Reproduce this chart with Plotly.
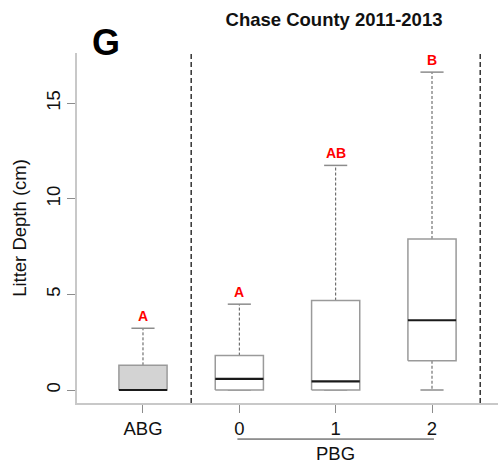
import plotly.graph_objects as go

# ---- data ----
categories = ["ABG", "0", "1", "2"]
lower_whisker = [0.0, 0.0, 0.0, 0.0]
q1 = [0.0, 0.0, 0.0, 1.53]
median = [0.0, 0.58, 0.45, 3.65]
q3 = [1.29, 1.80, 4.68, 7.90]
upper_whisker = [3.23, 4.49, 11.75, 16.63]
letters = ["A", "A", "AB", "B"]
box_fill = ["#D3D3D3", "white", "white", "white"]
y_ticks = [0, 5, 10, 15]

FONT = "Liberation Sans, Arial, sans-serif"
pos = list(range(1, len(categories) + 1))
half_box = 0.25
half_cap = 0.12

fig = go.Figure()
for i, x in enumerate(pos):
    # whiskers (dashed)
    fig.add_trace(go.Scatter(
        x=[x, x, None, x, x],
        y=[q3[i], upper_whisker[i], None, q1[i], lower_whisker[i]],
        mode="lines", line=dict(color="#555555", width=1, dash="3px,2px"),
        hoverinfo="skip", showlegend=False))
    # caps
    fig.add_trace(go.Scatter(
        x=[x - half_cap, x + half_cap, None, x - half_cap, x + half_cap],
        y=[upper_whisker[i], upper_whisker[i], None, lower_whisker[i], lower_whisker[i]],
        mode="lines", line=dict(color="#8c8c8c", width=1.5),
        hoverinfo="skip", showlegend=False))
    # box
    fig.add_trace(go.Scatter(
        x=[x - half_box, x + half_box, x + half_box, x - half_box, x - half_box],
        y=[q1[i], q1[i], q3[i], q3[i], q1[i]],
        mode="lines", fill="toself", fillcolor=box_fill[i],
        line=dict(color="#9a9a9a", width=1.5),
        hoverinfo="skip", showlegend=False))
    # median
    fig.add_trace(go.Scatter(
        x=[x - half_box, x + half_box], y=[median[i], median[i]],
        mode="lines", line=dict(color="#1a1a1a", width=2.2),
        hoverinfo="skip", showlegend=False))
    # significance letter
    fig.add_annotation(x=x, y=upper_whisker[i], text=f"<b>{letters[i]}</b>",
                       showarrow=False, yanchor="bottom", yshift=2,
                       font=dict(family=FONT, size=14, color="#ff0000"))

# dashed separators
for xv in [1.5, 4.5]:
    fig.add_shape(type="line", xref="x", yref="paper", x0=xv, x1=xv, y0=0, y1=1,
                  line=dict(color="black", width=1.2, dash="5px,3px"))

# PBG bracket line and label
fig.add_shape(type="line", xref="x", yref="paper", x0=pos[1] - 0.02, x1=pos[3] + 0.02,
              y0=-0.103, y1=-0.103, line=dict(color="#333333", width=1))
fig.add_annotation(x=pos[2], xref="x", y=-0.143, yref="paper", text="PBG",
                   showarrow=False, yanchor="middle",
                   font=dict(family=FONT, size=18.5, color="#111111"))

# Panel letter
fig.add_annotation(x=0.069, xref="paper", y=1.031, yref="paper", text="<b>G</b>",
                   showarrow=False, yanchor="middle", xanchor="center",
                   font=dict(family=FONT, size=36, color="black"))

fig.update_layout(
    width=498, height=466,
    margin=dict(l=77, r=0, t=53, b=63),
    plot_bgcolor="white", paper_bgcolor="white",
    title=dict(text="<b>Chase County 2011-2013</b>", x=334 / 498, xanchor="center",
               y=1 - 20 / 466, yanchor="middle",
               font=dict(family=FONT, size=18.5, color="#111111")),
    font=dict(family=FONT, color="#111111"),
    xaxis=dict(range=[0.315, 4.685], tickmode="array", tickvals=pos, ticktext=categories,
               showline=True, linecolor="#c8c8c8", linewidth=1.5, showgrid=False,
               zeroline=False, ticks="outside", ticklen=8, tickcolor="#8c8c8c",
               tickwidth=1, tickfont=dict(family=FONT, size=18.5, color="#111111")),
    yaxis=dict(range=[-0.68, 17.63], tickmode="array", tickvals=y_ticks,
               showline=True, linecolor="#c8c8c8", linewidth=1.5, showgrid=False,
               zeroline=False, ticks="outside", ticklen=8, tickcolor="#8c8c8c",
               tickwidth=1, tickangle=-90,
               tickfont=dict(family=FONT, size=18.5, color="#111111"),
               title=dict(text="Litter Depth (cm)", standoff=11,
                          font=dict(family=FONT, size=18.5, color="#111111"))),
)

fig.write_html("out.html")
